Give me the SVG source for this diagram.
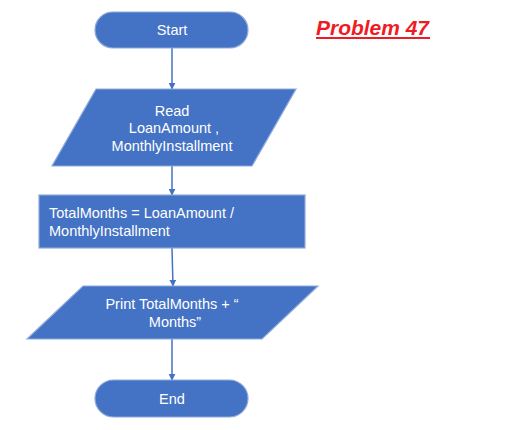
<svg xmlns="http://www.w3.org/2000/svg" width="517" height="430" viewBox="0 0 517 430">
<style>
.shape{fill:#4472C4;stroke:#8EA9DB;stroke-width:1.2}
.t{font-family:"Comic Sans MS","Liberation Sans",sans-serif;font-size:14.5px;fill:#ffffff}
.c{text-anchor:middle}
.conn{stroke:#4472C4;stroke-width:1.5;fill:none;marker-end:url(#ah)}
</style>
<defs>
<marker id="ah" viewBox="0 0 10 10" refX="9" refY="5" markerWidth="7" markerHeight="7" markerUnits="userSpaceOnUse" orient="auto">
<path d="M0,0 L10,5 L0,10 z" fill="#4472C4"/>
</marker>
</defs>
<rect width="517" height="430" fill="#ffffff"/>
<g id="connectors">
<line class="conn" x1="172" y1="48" x2="172" y2="89"/>
<line class="conn" x1="172" y1="166" x2="172" y2="195"/>
<line class="conn" x1="172" y1="248" x2="173" y2="286"/>
<line class="conn" x1="172" y1="339" x2="172" y2="380"/>
</g>
<g id="start">
<rect class="shape" x="95" y="12" width="153" height="36" rx="18"/>
<text class="t c" x="172" y="35">Start</text>
</g>
<g id="read">
<polygon class="shape" points="96,89 296,89 252,166 52,166"/>
<text class="t c" x="172" y="116">Read</text>
<text class="t c" x="174" y="133">LoanAmount ,</text>
<text class="t c" x="172" y="151">MonthlyInstallment</text>
</g>
<g id="compute">
<rect class="shape" x="39" y="195" width="266" height="53"/>
<text class="t" x="49" y="218">TotalMonths = LoanAmount /</text>
<text class="t" x="49" y="236">MonthlyInstallment</text>
</g>
<g id="print">
<polygon class="shape" points="83,286 318,286 262,339 27,339"/>
<text class="t c" x="172" y="309">Print TotalMonths + “</text>
<text class="t c" x="175" y="327">Months”</text>
</g>
<g id="end">
<rect class="shape" x="95" y="380" width="153" height="37" rx="18.5"/>
<text class="t c" x="172" y="404">End</text>
</g>
<g id="title">
<text x="316" y="35" font-family="Liberation Sans,sans-serif" font-size="20" font-weight="bold" font-style="italic" fill="#EE1C24" textLength="113" lengthAdjust="spacingAndGlyphs">Problem 47</text>
<line x1="316" y1="38" x2="430" y2="38" stroke="#EE1C24" stroke-width="2"/>
</g>
</svg>
